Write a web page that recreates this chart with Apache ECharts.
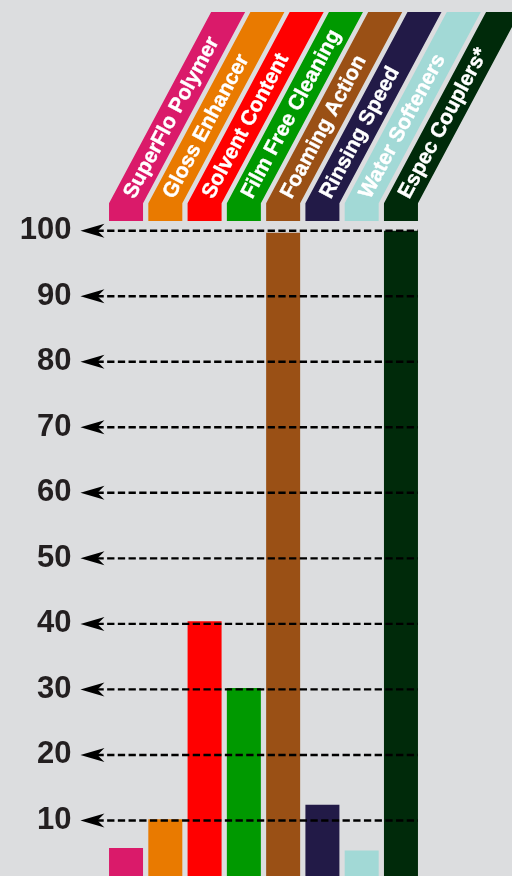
<!DOCTYPE html>
<html>
<head>
<meta charset="utf-8">
<script src="https://cdn.jsdelivr.net/npm/echarts@6/dist/echarts.min.js"></script>
<style>
html,body{margin:0;padding:0;background:#dcdddf;overflow:hidden;}
#c{width:512px;height:886px;}
</style>
</head>
<body>
<div id="c"></div>
<script>
var categories = ['SuperFlo Polymer','Gloss Enhancer','Solvent Content','Film Free Cleaning','Foaming Action','Rinsing Speed','Water Softeners','Espec Couplers*'];
var values = [5.8, 10.2, 40.4, 30.2, 99.7, 12.4, 5.4, 100];
var colors = ['#da1a6a','#e97a00','#ff0000','#009900','#9a5015','#221a47','#a2d9d6','#002a0a'];
var ticks = [10, 20, 30, 40, 50, 60, 70, 80, 90, 100];

var BAR_W = 34;
var FONT = '"Liberation Sans", Arial, Helvetica, sans-serif';
var ANG = Math.atan2(191, 102);

var chart = echarts.init(document.getElementById('c'), null, {renderer: 'canvas'});

chart.setOption({
  backgroundColor: '#dcdddf',
  animation: false,
  grid: {left: 106.4, right: 91.4, top: 230.7, bottom: 0, containLabel: false},
  xAxis: {
    type: 'category', data: categories,
    axisLine: {show: false}, axisTick: {show: false}, axisLabel: {show: false}, splitLine: {show: false}
  },
  yAxis: {
    type: 'value', min: 0, max: 100, interval: 10,
    axisLine: {show: false}, axisTick: {show: false}, splitLine: {show: false},
    axisLabel: {
      margin: 35, color: '#231f20', fontSize: 31, fontWeight: 'bold', fontFamily: FONT,
      formatter: function (v) { return v === 0 ? '' : String(v); }
    }
  },
  series: [
    {
      type: 'bar', barWidth: BAR_W, z: 2,
      data: values.map(function (v, i) { return {value: v, itemStyle: {color: colors[i]}}; })
    },
    {
      type: 'custom', z: 5, clip: false,
      data: ticks.map(function (t) { return [0, t]; }),
      renderItem: function (params, api) {
        var v = api.value(1);
        var p0 = api.coord([0, v]);
        var p1 = api.coord([categories.length - 1, v]);
        var left = p0[0] - BAR_W / 2 - 2.6;
        var right = p1[0] + BAR_W / 2;
        var y = p0[1];
        var tip = left - 26;
        return {
          type: 'group',
          children: [
            {type: 'line', shape: {x1: tip + 16, y1: y, x2: right, y2: y},
             style: {stroke: '#000', lineWidth: 2.4, lineDash: [7.3, 3.4]}},
            {type: 'polygon', shape: {points: [[tip, y], [tip + 24, y - 7], [tip + 17, y], [tip + 24, y + 7]]},
             style: {fill: '#000'}}
          ]
        };
      }
    },
    {
      type: 'custom', z: 4, clip: false,
      data: categories.map(function (c, i) { return [i, 100]; }),
      renderItem: function (params, api) {
        var idx = api.value(0);
        var p = api.coord([idx, 100]);
        var cx = p[0];
        var yBase = p[1];
        var xl = cx - BAR_W / 2, xr = cx + BAR_W / 2;
        var yRectB = yBase - 9.7, yRectT = yBase - 27.5, yTop = yBase - 218.7;
        var dx = (yRectT - yTop) * 102 / 191;
        var t = 7;
        var ax = cx + t * Math.cos(ANG);
        var ay = yRectT - t * Math.sin(ANG);
        return {
          type: 'group',
          children: [
            {type: 'polygon', shape: {points: [[xl, yRectB], [xl, yRectT], [xl + dx, yTop], [xr + dx, yTop], [xr, yRectT], [xr, yRectB]]},
             style: {fill: colors[idx]}},
            {type: 'text', x: ax, y: ay, rotation: ANG,
             style: {text: categories[idx], fill: '#ffffff', font: 'bold 21px ' + FONT, align: 'left', verticalAlign: 'middle',
                     stroke: '#ffffff', lineWidth: 0.4}}
          ]
        };
      }
    }
  ]
});
</script>
</body>
</html>
